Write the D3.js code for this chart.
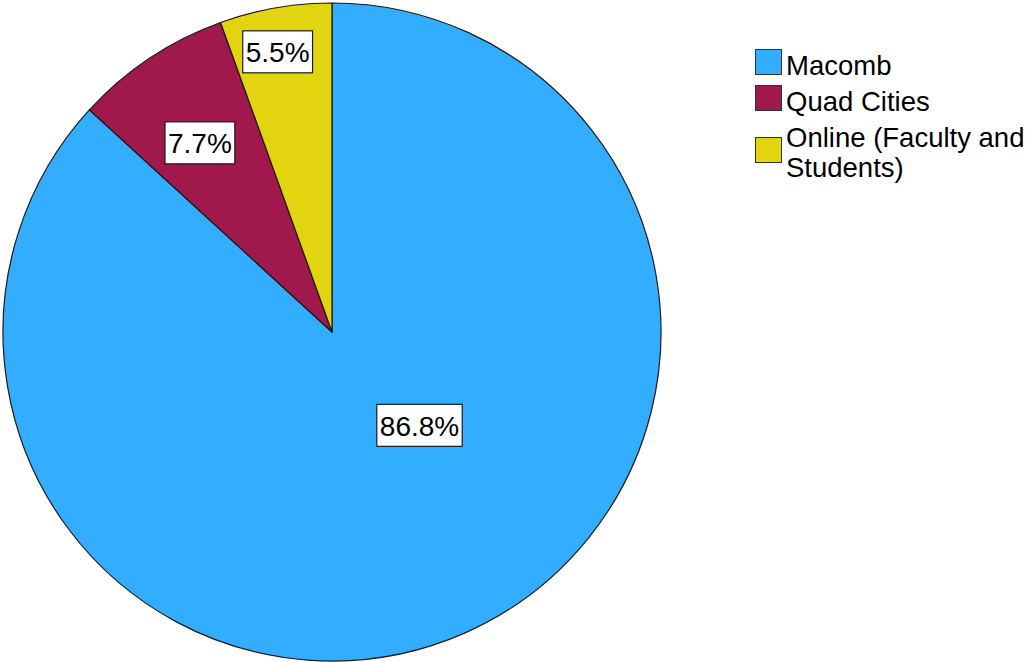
<!DOCTYPE html>
<html>
<head>
<meta charset="utf-8">
<script src="https://cdn.jsdelivr.net/npm/d3@7"></script>
<style>
  html, body { margin: 0; padding: 0; background: #fff; }
  svg { display: block; }
  text { font-family: "Liberation Sans", Arial, sans-serif; fill: #000; }
</style>
</head>
<body>
<svg id="chart" width="1030" height="662"></svg>
<script>
// Campus shares (percent)
const categories = ["Macomb", "Quad Cities", "Online (Faculty and Students)"];
const values = [86.8, 7.7, 5.5];
const legendLines = [["Macomb"], ["Quad Cities"], ["Online (Faculty and", "Students)"]];
const colors = ["#33adff", "#a0184c", "#e2d510"];

// Label anchors: angle (deg, clockwise from 12 o'clock) and fraction of radius
const labelAngles = [137, 325, 349];
const labelRadii = [0.39, 0.70, 0.866];

const width = 1030, height = 662;
const cx = 332, cy = 332, radius = 329;

const svg = d3.select("#chart");
const g = svg.append("g").attr("transform", `translate(${cx},${cy})`);

const data = categories.map((c, i) => ({ category: c, value: values[i] }));

const pie = d3.pie().sort(null).value(d => d.value).startAngle(0).endAngle(2 * Math.PI);
const arc = d3.arc().innerRadius(0).outerRadius(radius);
const color = d3.scaleOrdinal().domain(categories).range(colors);

const arcs = pie(data);

g.selectAll("path.slice")
  .data(arcs)
  .join("path")
  .attr("class", "slice")
  .attr("d", arc)
  .attr("fill", d => color(d.data.category))
  .attr("stroke", "#1a1a1a")
  .attr("stroke-width", 1.2)
  .attr("stroke-linejoin", "round");

// Value labels in white boxes
const fmt = d3.format(".1f");
const labels = g.selectAll("g.label")
  .data(arcs)
  .join("g")
  .attr("class", "label")
  .attr("transform", (d, i) => {
    const a = labelAngles[i] * Math.PI / 180;
    const r = labelRadii[i] * radius;
    return `translate(${r * Math.sin(a)},${-r * Math.cos(a)})`;
  });

labels.each(function(d) {
  const sel = d3.select(this);
  const t = sel.append("text")
    .attr("text-anchor", "middle")
    .attr("dy", "0.36em")
    .style("font-size", "28px")
    .text(fmt(d.data.value) + "%");
  const bb = t.node().getBBox();
  const padX = 3;
  sel.insert("rect", "text")
    .attr("x", bb.x - padX)
    .attr("y", -21.5)
    .attr("width", bb.width + padX * 2)
    .attr("height", 42)
    .attr("fill", "#fff")
    .attr("stroke", "#1a1a1a")
    .attr("stroke-width", 1.2);
});

// Legend
const legend = svg.append("g").attr("transform", "translate(755,49)");
const rowOffsets = [0, 36, 88];
const lineHeight = 30;

const items = legend.selectAll("g.item")
  .data(categories)
  .join("g")
  .attr("class", "item")
  .attr("transform", (d, i) => `translate(0,${rowOffsets[i]})`);

items.append("rect")
  .attr("x", 0.5)
  .attr("y", 0.5)
  .attr("width", 26)
  .attr("height", 25)
  .attr("fill", d => color(d))
  .attr("stroke", "#333")
  .attr("stroke-width", 1);

items.append("text")
  .attr("x", 31)
  .attr("y", (d, i) => i === 2 ? 10 : 26)
  .style("font-size", "27.5px")
  .selectAll("tspan")
  .data((d, i) => legendLines[i])
  .join("tspan")
  .attr("x", 31)
  .attr("dy", (d, j) => j === 0 ? 0 : lineHeight)
  .text(d => d);
</script>
</body>
</html>
